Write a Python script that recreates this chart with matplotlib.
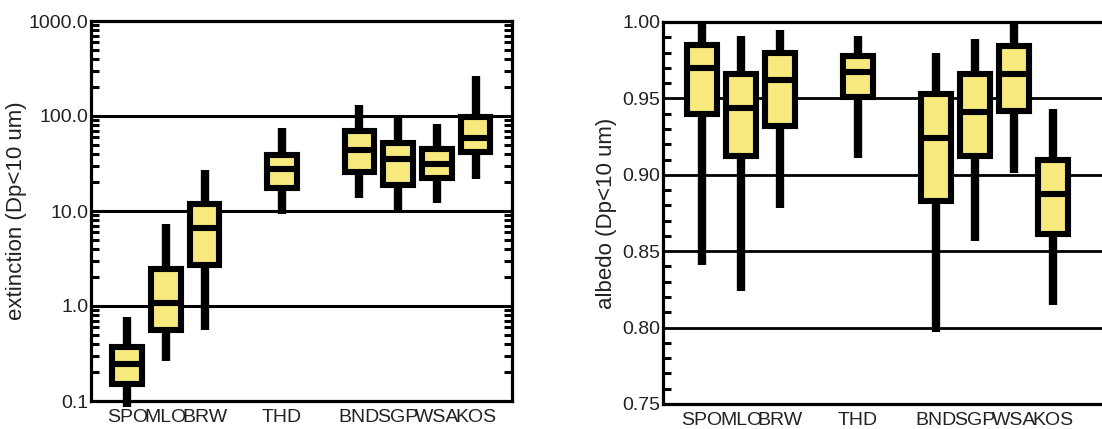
"""Box summaries of extinction and albedo (Dp<10 um) by station."""

import matplotlib.pyplot as plt
import numpy as np
from matplotlib.ticker import FixedLocator, FuncFormatter, LogLocator, MultipleLocator, NullFormatter

plt.rcParams["font.family"] = ["Liberation Sans", "DejaVu Sans"]

stations = ["SPO", "MLO", "BRW", "THD", "BND", "SGP", "WSA", "KOS"]
positions = [1, 2, 3, 5, 7, 8, 9, 10]

# extinction, Mm-1
ext_whislo = [0.087, 0.265, 0.56, 9.2, 13.6, 9.5, 12.0, 21.5]
ext_q1 = [0.152, 0.56, 2.7, 17.3, 26.0, 19.0, 22.0, 42.0]
ext_med = [0.246, 1.07, 6.6, 27.4, 43.4, 35.0, 31.6, 59.0]
ext_q3 = [0.37, 2.45, 11.8, 38.5, 70.0, 52.6, 44.4, 98.6]
ext_whishi = [0.77, 7.25, 26.8, 75.4, 132.0, 98.6, 83.0, 265.0]

# single scattering albedo
alb_whislo = [0.841, 0.824, 0.878, 0.911, 0.797, 0.857, 0.901, 0.8145]
alb_q1 = [0.9395, 0.9125, 0.932, 0.951, 0.883, 0.9125, 0.942, 0.861]
alb_med = [0.970, 0.944, 0.962, 0.967, 0.924, 0.941, 0.966, 0.8875]
alb_q3 = [0.985, 0.966, 0.980, 0.978, 0.953, 0.966, 0.984, 0.910]
alb_whishi = [1.0, 0.991, 0.995, 0.991, 0.980, 0.989, 1.0, 0.943]

FILL = "#F7E97E"
TEXT = "#222222"


def make_stats(lo, q1, med, q3, hi):
    return [
        {"whislo": a, "q1": b, "med": c, "q3": d, "whishi": e, "fliers": []}
        for a, b, c, d, e in zip(lo, q1, med, q3, hi)
    ]


def draw_boxes(ax, stats):
    ax.bxp(
        stats,
        positions=positions,
        widths=0.76,
        showcaps=False,
        showfliers=False,
        patch_artist=True,
        boxprops=dict(facecolor=FILL, edgecolor="black", linewidth=4.4),
        whiskerprops=dict(color="black", linewidth=6.0, solid_capstyle="butt", clip_on=False),
        medianprops=dict(color="black", linewidth=4.4, solid_capstyle="butt"),
        zorder=3,
    )
    ax.set_xticks(positions)
    ax.set_xticklabels(stations)


def style_axes(ax):
    for side in ["top", "bottom", "left", "right"]:
        ax.spines[side].set_linewidth(2.3)
    ax.tick_params(axis="x", bottom=False, labelsize=14, pad=2, colors=TEXT)
    ax.tick_params(axis="y", which="both", direction="in", width=2.2, labelsize=14, pad=2, labelcolor=TEXT)
    ax.tick_params(axis="y", which="major", length=0)
    ax.tick_params(axis="y", which="minor", length=6)


fig = plt.figure(figsize=(11.02, 4.29), dpi=100)
ax1 = fig.add_axes([91 / 1102, 1 - 401 / 429, 421 / 1102, 380 / 429])
ax2 = fig.add_axes([663 / 1102, 1 - 404 / 429, 441 / 1102, 382 / 429])

# left: extinction on a log axis
draw_boxes(ax1, make_stats(ext_whislo, ext_q1, ext_med, ext_q3, ext_whishi))
ax1.set_yscale("log")
ax1.set_ylim(0.1, 1000)
ax1.set_xlim(0.065, 10.94)
ax1.yaxis.set_major_locator(FixedLocator([0.1, 1, 10, 100, 1000]))
ax1.yaxis.set_major_formatter(FuncFormatter(lambda v, p: f"{v:.1f}"))
ax1.yaxis.set_minor_locator(LogLocator(base=10, subs=np.arange(2, 10)))
ax1.yaxis.set_minor_formatter(NullFormatter())
for g in [1, 10, 100]:
    ax1.axhline(g, color="black", linewidth=2.2, zorder=1)
style_axes(ax1)
ax1.tick_params(axis="y", which="both", left=True, right=True)
ax1.set_ylabel("extinction (Dp<10 um)", fontsize=16, color=TEXT, labelpad=1)

# right: albedo on a linear axis
draw_boxes(ax2, make_stats(alb_whislo, alb_q1, alb_med, alb_q3, alb_whishi))
ax2.set_ylim(0.75, 1.0)
ax2.set_xlim(0, 11.3)
ax2.yaxis.set_major_locator(MultipleLocator(0.05))
ax2.yaxis.set_major_formatter(FuncFormatter(lambda v, p: f"{v:.2f}"))
ax2.yaxis.set_minor_locator(MultipleLocator(0.01))
for g in [0.80, 0.85, 0.90, 0.95]:
    ax2.axhline(g, color="black", linewidth=2.0, zorder=1)
style_axes(ax2)
ax2.spines["right"].set_visible(False)
ax2.set_ylabel("albedo (Dp<10 um)", fontsize=16, color=TEXT, labelpad=4)

fig.savefig("out.png", dpi=100)
